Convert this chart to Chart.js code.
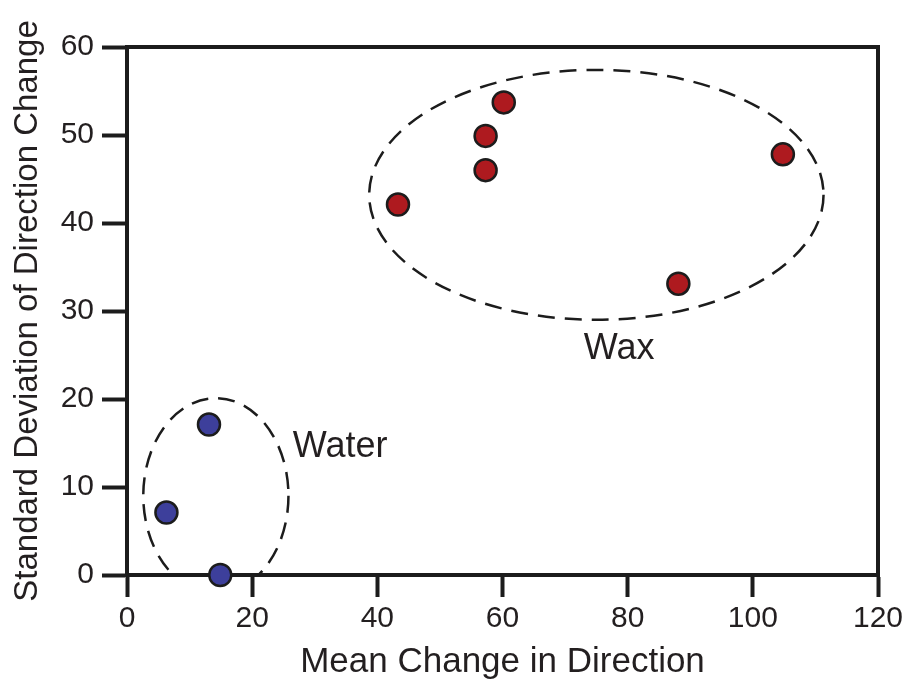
<!DOCTYPE html>
<html>
<head>
<meta charset="utf-8">
<title>Direction change</title>
<script src="https://cdn.jsdelivr.net/npm/chart.js@4/dist/chart.umd.min.js"></script>
<style>
  html, body { margin: 0; padding: 0; background: #fff; }
  #wrap { width: 909px; height: 680px; position: relative; }
</style>
</head>
<body>
<div id="wrap"><canvas id="chart"></canvas></div>
<script>
  "use strict";

  // values
  const waterX = [6.3, 13.1, 14.9];
  const waterY = [7.1, 17.1, 0];
  const waxX = [43.3, 57.3, 57.3, 60.2, 88.1, 104.8];
  const waxY = [42.1, 46.0, 49.9, 53.7, 33.1, 47.8];
  const xTicks = [0, 20, 40, 60, 80, 100, 120];
  const yTicks = [0, 10, 20, 30, 40, 50, 60];

  // dashed group outlines (centre and half axes in data units) and their names
  const groupNames = ["Water", "Wax"];
  const groupCenterX = [14.2, 75.0];
  const groupCenterY = [9.0, 43.2];
  const groupRadiusX = [11.6, 36.3];
  const groupRadiusY = [11.1, 14.2];
  const groupLabelX = [26.5, 73.0];
  const groupLabelY = [13.45, 24.6];

  const FONT = "\"Liberation Sans\", Arial, Helvetica, sans-serif";
  const INK = "#1c1c1c";
  const TEXT = "#231f20";

  const toPoints = (xs, ys) => xs.map((v, i) => ({x: v, y: ys[i]}));

  const groupOutlines = {
    id: "groupOutlines",
    beforeDatasetsDraw(chart) {
      const {ctx, chartArea, scales} = chart;
      const sx = scales.x;
      const sy = scales.y;

      ctx.save();
      ctx.beginPath();
      ctx.rect(chartArea.left, chartArea.top, chartArea.right - chartArea.left, chartArea.bottom - chartArea.top);
      ctx.clip();
      ctx.strokeStyle = INK;
      ctx.lineWidth = 2.5;
      ctx.setLineDash([17, 10]);
      groupNames.forEach((name, i) => {
        const cx = sx.getPixelForValue(groupCenterX[i]);
        const cy = sy.getPixelForValue(groupCenterY[i]);
        const rx = Math.abs(sx.getPixelForValue(groupCenterX[i] + groupRadiusX[i]) - cx);
        const ry = Math.abs(sy.getPixelForValue(groupCenterY[i] + groupRadiusY[i]) - cy);
        ctx.beginPath();
        ctx.ellipse(cx, cy, rx, ry, 0, 0, Math.PI * 2);
        ctx.stroke();
      });
      ctx.restore();

      ctx.save();
      ctx.fillStyle = TEXT;
      ctx.font = "36px " + FONT;
      ctx.textAlign = "left";
      ctx.textBaseline = "alphabetic";
      groupNames.forEach((name, i) => {
        ctx.fillText(name, sx.getPixelForValue(groupLabelX[i]), sy.getPixelForValue(groupLabelY[i]));
      });
      ctx.restore();
    },
    afterDraw(chart) {
      // closed box: top and right edges
      const {ctx, chartArea} = chart;
      ctx.save();
      ctx.strokeStyle = INK;
      ctx.lineWidth = 4;
      ctx.beginPath();
      ctx.moveTo(chartArea.left - 2, chartArea.top);
      ctx.lineTo(chartArea.right, chartArea.top);
      ctx.lineTo(chartArea.right, chartArea.bottom + 2);
      ctx.stroke();
      ctx.restore();
    },
  };

  new Chart(document.getElementById("chart"), {
    type: "scatter",
    data: {
      datasets: [
        {
          label: "Water",
          data: toPoints(waterX, waterY),
          backgroundColor: "#3d3f9b",
          borderColor: INK,
          borderWidth: 2.5,
          pointRadius: 11,
          clip: false,
        },
        {
          label: "Wax",
          data: toPoints(waxX, waxY),
          backgroundColor: "#ae1a1f",
          borderColor: INK,
          borderWidth: 2.5,
          pointRadius: 11,
          clip: false,
        },
      ],
    },
    options: {
      responsive: true,
      maintainAspectRatio: false,
      animation: false,
      layout: {padding: {top: 47, right: 31, left: 0, bottom: 0}},
      plugins: {
        legend: {display: false},
        tooltip: {enabled: false},
      },
      scales: {
        x: {
          type: "linear",
          min: 0,
          max: 120,
          afterBuildTicks: (s) => {
            s.ticks = xTicks.map((v) => ({value: v}));
          },
          afterFit: (s) => {
            s.height = 105;
          },
          grid: {drawOnChartArea: false, tickLength: 22, tickWidth: 4, tickColor: INK},
          border: {color: INK, width: 4},
          ticks: {font: {size: 30, family: FONT}, color: TEXT, padding: 4, maxRotation: 0},
          title: {
            display: true,
            text: "Mean Change in Direction",
            color: TEXT,
            font: {size: 35, family: FONT, lineHeight: 1},
            padding: {top: 0, bottom: 0},
          },
        },
        y: {
          type: "linear",
          min: 0,
          max: 60,
          afterBuildTicks: (s) => {
            s.ticks = yTicks.map((v) => ({value: v}));
          },
          afterFit: (s) => {
            s.width = 127;
          },
          grid: {drawOnChartArea: false, tickLength: 25, tickWidth: 4, tickColor: INK},
          border: {color: INK, width: 4},
          ticks: {font: {size: 30, family: FONT}, color: TEXT, padding: 8},
          title: {
            display: true,
            text: "Standard Deviation of Direction Change",
            color: TEXT,
            font: {size: 33, family: FONT, lineHeight: 1.2},
            padding: {top: 8, bottom: 0},
          },
        },
      },
    },
    plugins: [groupOutlines],
  });
</script>
</body>
</html>
